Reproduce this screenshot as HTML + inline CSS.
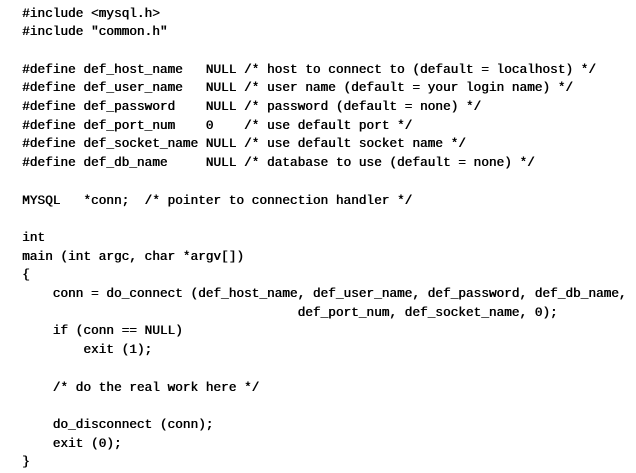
<!DOCTYPE html>
<html><head><meta charset="utf-8"><style>
html,body{margin:0;padding:0;background:#fff;}
body{width:636px;height:473px;overflow:hidden;}
pre{position:absolute;left:22px;top:4.5px;margin:0;font-family:"Liberation Mono",monospace;font-size:12.75px;line-height:18.7px;color:#000;text-shadow:0.5px 0 0 #000;}
</style></head><body>
<pre>#include &lt;mysql.h&gt;
#include "common.h"

#define def_host_name   NULL /* host to connect to (default = localhost) */
#define def_user_name   NULL /* user name (default = your login name) */
#define def_password    NULL /* password (default = none) */
#define def_port_num    0    /* use default port */
#define def_socket_name NULL /* use default socket name */
#define def_db_name     NULL /* database to use (default = none) */

MYSQL   *conn;  /* pointer to connection handler */

int
main (int argc, char *argv[])
{
    conn = do_connect (def_host_name, def_user_name, def_password, def_db_name,
                                    def_port_num, def_socket_name, 0);
    if (conn == NULL)
        exit (1);

    /* do the real work here */

    do_disconnect (conn);
    exit (0);
}</pre>
</body></html>
